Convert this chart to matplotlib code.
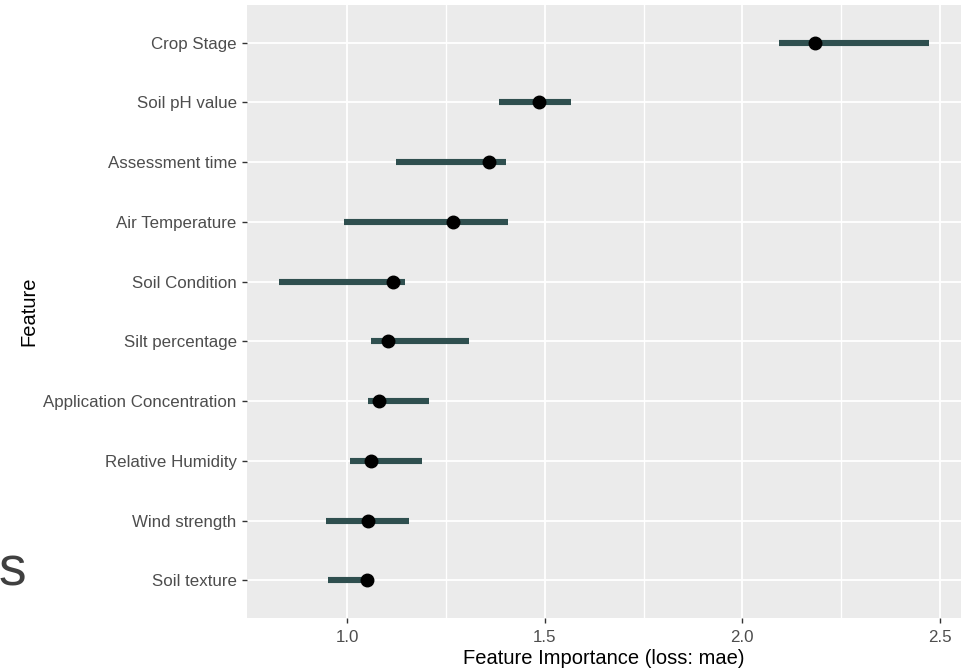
import matplotlib.pyplot as plt
from matplotlib.ticker import FixedLocator

# data (top to bottom)
features = ["Crop Stage", "Soil pH value", "Assessment time", "Air Temperature",
            "Soil Condition", "Silt percentage", "Application Concentration",
            "Relative Humidity", "Wind strength", "Soil texture"]
importance = [2.185, 1.486, 1.358, 1.267, 1.116, 1.104, 1.081, 1.059, 1.053, 1.050]
lower = [2.093, 1.383, 1.122, 0.992, 0.828, 1.059, 1.052, 1.006, 0.947, 0.952]
upper = [2.472, 1.566, 1.402, 1.407, 1.145, 1.308, 1.206, 1.189, 1.156, 1.061]
x_ticks = [1.0, 1.5, 2.0, 2.5]
x_minor = [1.25, 1.75, 2.25]

plt.rcParams['font.family'] = ['Liberation Sans', 'DejaVu Sans']

fig = plt.figure(figsize=(9.73, 6.71), dpi=100)
ax = fig.add_axes([0.2539, 0.079, 0.7338, 0.9136])
ax.set_facecolor('#EBEBEB')

n = len(features)
ypos = [n - i for i in range(n)]

ax.hlines(ypos, lower, upper, color='#2F4F4F', linewidth=4.4, zorder=3)
ax.plot(importance, ypos, 'o', color='black', markersize=9, zorder=4)

# ggplot-like expansion
lo, hi = min(lower), max(upper)
pad = (hi - lo) * 0.05
ax.set_xlim(lo - pad, hi + pad)
ax.set_ylim(0.37, n + 0.63)

ax.set_xticks(x_ticks)
ax.set_xticklabels([f"{t:.1f}" for t in x_ticks])
ax.xaxis.set_minor_locator(FixedLocator(x_minor))
ax.set_yticks(ypos)
ax.set_yticklabels(features)

ax.grid(True, which='major', color='white', linewidth=1.3, zorder=0)
ax.grid(True, which='minor', axis='x', color='white', linewidth=1.0, zorder=0)
ax.set_axisbelow(True)
for s in ax.spines.values():
    s.set_visible(False)

ax.tick_params(axis='both', which='major', length=3.5, width=1.0, color='#333333',
               labelcolor='#4D4D4D', labelsize=12.2)
ax.tick_params(axis='both', which='minor', length=0)
ax.tick_params(axis='y', pad=4)
ax.tick_params(axis='x', pad=5)

ax.set_xlabel('Feature Importance (loss: mae)', fontsize=14.5, color='black', labelpad=3)
ax.set_ylabel('Feature', fontsize=14.5, color='black')
ax.yaxis.set_label_coords(-0.292, 0.5)

# stray cut-off text at the left edge of the screenshot
fig.text(27 / 973, 1 - 586 / 671, 'es', fontsize=40, color='#404040',
         ha='right', va='baseline')

fig.savefig('out.png', dpi=100)
